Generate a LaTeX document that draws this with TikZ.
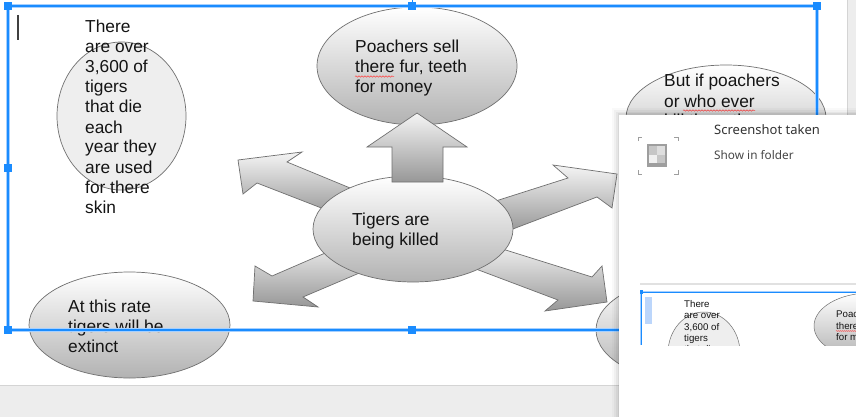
\documentclass[tikz,border=0pt]{standalone}
\usepackage{fontspec}
\setmainfont{Liberation Sans}
\newfontfamily\uifont{Noto Sans}
\usetikzlibrary{shapes.geometric,decorations.pathmorphing}
\definecolor{selblue}{HTML}{1A8CFF}
\definecolor{selhalo}{HTML}{A6D0FF}
\definecolor{edgegray}{HTML}{707070}
\definecolor{shadeb}{HTML}{B2B2B2}
\definecolor{flatfill}{HTML}{EEEEEE}
\definecolor{uigray}{HTML}{EDEDED}
\definecolor{uiline}{HTML}{D4D4D4}
\definecolor{uitext}{HTML}{333333}
\definecolor{iconframe}{HTML}{9E9E9E}
\definecolor{iconA}{HTML}{C6C6C6}
\definecolor{iconB}{HTML}{DEDEDE}
\definecolor{iconC}{HTML}{F0F0F0}
\definecolor{thumbbar}{HTML}{BCD6FB}
\tikzset{
  bubble/.style={ellipse, draw=edgegray, line width=0.7pt, inner sep=0pt, top color=white, bottom color=shadeb},
  flatbubble/.style={ellipse, draw=edgegray, line width=0.7pt, inner sep=0pt, fill=flatfill},
  blockarrow/.style={draw=edgegray, line width=0.7pt, top color=white!96!black, bottom color=shadeb!85!black},
  txt/.style={anchor=base west, inner sep=0pt, font=\fontsize{17.33}{20}\selectfont, text=black!92},
  smalltxt/.style={anchor=base west, inner sep=0pt, font=\fontsize{9.7}{11}\selectfont, text=black!92},
  wavy/.style={red!75, line width=0.5pt, decorate, decoration={snake, segment length=3pt, amplitude=0.7pt}},
  uitxt/.style={anchor=base west, inner sep=0pt, text=uitext},
  handle/.style={fill=selblue, minimum size=7.5pt, inner sep=0pt, draw=none},
}
\begin{document}
\begin{tikzpicture}[x=1pt,y=-1pt]
\useasboundingbox (0,0) rectangle (856,417);
\fill[white] (0,0) rectangle (856,417);
% page edges
\fill[uigray] (0,385) rectangle (619,417);
\draw[uiline, line width=1pt] (0,385) -- (619,385);
\fill[uigray] (847,0) rectangle (856,115);
\draw[uiline, line width=0.6pt] (847,0) -- (847,115);

% outer ellipses
\node[flatbubble, minimum width=129pt, minimum height=148pt] (eleft) at (121.5,116) {};
\node[bubble, minimum width=201pt, minimum height=106pt] (ebl) at (129.5,325) {};
\node[bubble, minimum width=200pt, minimum height=106pt] (ebr) at (696,330) {};
\node[bubble, minimum width=200pt, minimum height=106pt] (eright) at (726,118) {};
\node[bubble, minimum width=200pt, minimum height=118pt] (etop) at (417,66) {};

% diagonal block arrows
\path[blockarrow] (238,160) -- (302,152) -- (287,162) -- (372,197) -- (342,216) -- (257,183) -- (243,194) -- cycle;
\path[blockarrow] (617,174) -- (612,208) -- (597,197) -- (505,232) -- (480,206) -- (568,178) -- (553,165) -- cycle;
\path[blockarrow] (253,301) -- (318,307) -- (303,297) -- (390,260) -- (360,238) -- (272,276) -- (255,266) -- cycle;
\path[blockarrow] (607,302) -- (602,266) -- (592,277) -- (480,242) -- (460,263) -- (558,300) -- (545,311) -- cycle;

% centre ellipse
\node[bubble, minimum width=200pt, minimum height=106pt] (ectr) at (413,229) {};

% up arrow
\path[blockarrow] (417,113) -- (467,147) -- (443,147) -- (443,182) -- (392,182) -- (392,147) -- (367,147) -- cycle;

% texts
\node[txt] (l1) at (85,33) {There};
\node[txt] (l2) at (85,53) {are over};
\node[txt] (l3) at (85,73) {3,600 of};
\node[txt] (l4) at (85,93) {tigers};
\node[txt] (l5) at (85,113) {that die};
\node[txt] (l6) at (85,133) {each};
\node[txt] (l7) at (85,153) {year they};
\node[txt] (l8) at (85,173) {are used};
\node[txt] (l9) at (85,193) {for there};
\node[txt] (l10) at (85,213) {skin};

\node[txt] (p1) at (355,53) {Poachers sell};
\node[txt] (p2) at (355,73) {there fur, teeth};
\node[txt] (p3) at (355,93) {for money};
\draw[wavy] ([yshift=-3.5pt]p2.base west) -- ++(39,0);

\node[txt] (c1) at (352,225) {Tigers are};
\node[txt] (c2) at (352,245) {being killed};

\node[txt] (r1) at (664,87) {But if poachers};
\node[txt] (r2) at (664,107) {or who ever};
\node[txt] (r3) at (664,127) {kill them they};
\draw[wavy] ([xshift=19pt,yshift=-3.5pt]r2.base west) -- ++(72,0);

\node[txt] (b1) at (68,312) {At this rate};
\node[txt] (b2) at (68,332) {tigers will be};
\node[txt] (b3) at (68,352) {extinct};

% selection frame
\draw[selhalo, line width=3.5pt] (8,6) rectangle (817,330);
\draw[selblue, line width=1.4pt] (8,6) rectangle (817,330);
\draw[selblue, line width=0.8pt] (412,0) -- (412,6);
\node[handle] (h1) at (8,6) {};
\node[handle] (h2) at (412,6) {};
\node[handle] (h3) at (817,6) {};
\node[handle] (h4) at (8,168) {};
\node[handle] (h5) at (817,168) {};
\node[handle] (h6) at (8,330) {};
\node[handle] (h7) at (412,330) {};
\node[handle] (h8) at (817,330) {};
% text cursor
\draw[black!75, line width=1.4pt] (18,15) -- (18,40);

% notification popup
\foreach \d/\o in {7/0.025,5/0.035,3/0.045,1.5/0.06}
  \fill[black, opacity=\o] (619-\d,115-\d) rectangle (856,417);
\fill[white] (619,115) rectangle (856,417);
% icon
\draw[iconframe, line width=1pt] (638,141) -- (638,137) -- (642,137);
\draw[iconframe, line width=1pt] (674,137) -- (678,137) -- (678,141);
\draw[iconframe, line width=1pt] (638,170) -- (638,174) -- (642,174);
\draw[iconframe, line width=1pt] (674,174) -- (678,174) -- (678,170);
\fill[iconframe] (647,144) rectangle (667,167);
\fill[iconA] (649,146) rectangle (657,155);
\fill[iconB] (657,146) rectangle (665,155);
\fill[iconC] (649,155) rectangle (657,163);
\fill[iconA] (657,155) rectangle (665,163);
\node[uitxt, font=\uifont\fontsize{13}{15}\selectfont] (ptitle) at (714,135) {Screenshot taken};
\node[uitxt, font=\uifont\fontsize{11.8}{14}\selectfont, text=uitext!90] (plink) at (714,159) {Show in folder};

% thumbnail
\draw[uiline!70, line width=1.5pt] (640,284) -- (856,284);
\begin{scope}
  \clip (640,287) rectangle (856,345);
  \node[flatbubble, line width=0.5pt, minimum width=72pt, minimum height=82pt] (tleft) at (704,353) {};
  \node[bubble, line width=0.5pt, minimum width=112pt, minimum height=66pt] (ttop) at (870,326) {};
  \fill[thumbbar] (645,297) rectangle (652,324);
  \node[smalltxt] (s1) at (684,307) {There};
  \node[smalltxt] (s2) at (684,318.5) {are over};
  \node[smalltxt] (s3) at (684,330) {3,600 of};
  \node[smalltxt] (s4) at (684,341) {tigers};
  \node[smalltxt] (s5) at (684,352) {that die};
  \node[smalltxt] (q1) at (836,317) {Poachers sell};
  \node[smalltxt] (q2) at (836,329) {there fur, teeth};
  \node[smalltxt] (q3) at (836,340) {for money};
  \draw[wavy, decoration={snake, segment length=2pt, amplitude=0.4pt}] ([yshift=-2pt]q2.base west) -- ++(22,0);
  \draw[selhalo, line width=2pt] (641,292) -- (856,292);
  \draw[selhalo, line width=2pt] (641,292) -- (641,345);
  \draw[selblue, line width=0.9pt] (641,292) -- (856,292);
  \draw[selblue, line width=0.9pt] (641,292) -- (641,345);
  \node[handle, minimum size=4pt] (th1) at (641,292) {};
\end{scope}
\end{tikzpicture}
\end{document}
